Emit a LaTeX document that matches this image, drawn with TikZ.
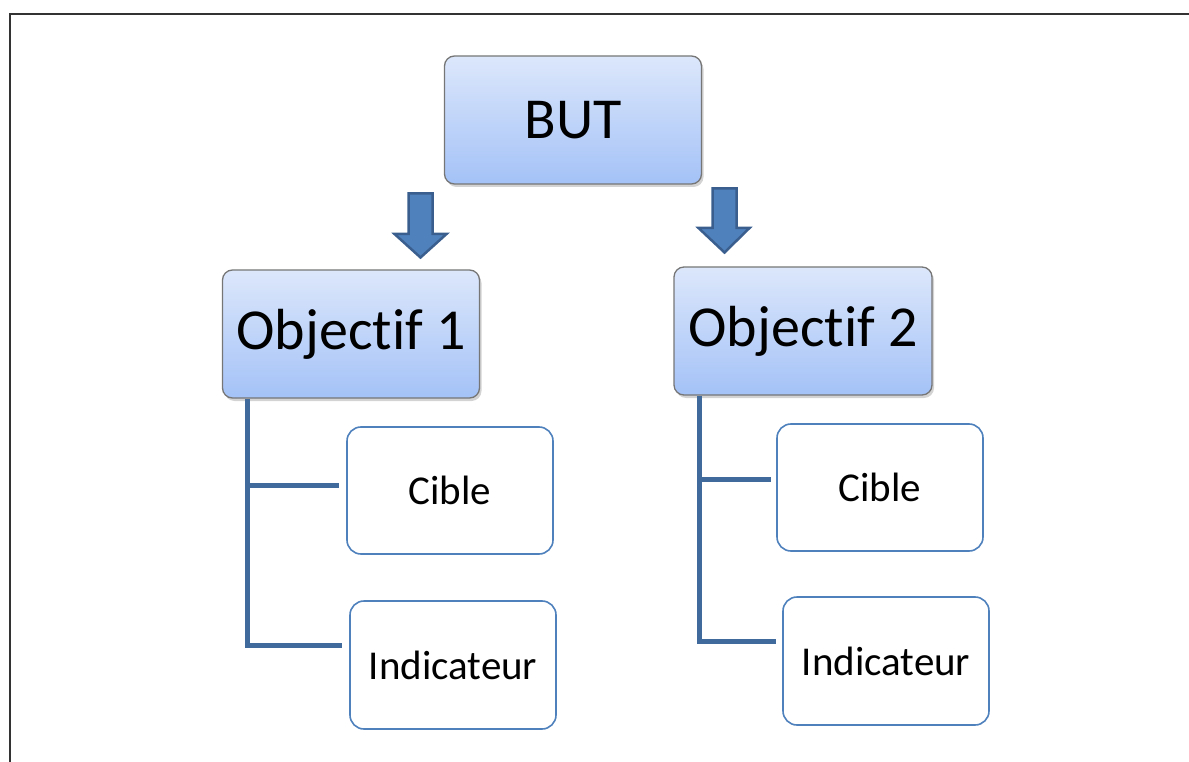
\documentclass[tikz,border=0pt]{standalone}
\usepackage{fontspec}
\setmainfont{Carlito}[Ligatures={NoCommon}]
\usepackage{tikz}
\usepackage{xcolor}
\usetikzlibrary{shadows}
\usetikzlibrary{calc}

\definecolor{boxtop}{HTML}{DCE7FB}
\definecolor{boxbottom}{HTML}{A4C2F7}
\definecolor{boxedge}{HTML}{767676}
\definecolor{leafedge}{HTML}{4F81BD}
\definecolor{linkblue}{HTML}{40699C}
\definecolor{arrowfill}{HTML}{4F81BD}
\definecolor{arrowedge}{HTML}{3A5F8F}

\tikzset{
  goalbox/.style={draw=boxedge, line width=1.3pt, rounded corners=10pt,
    top color=boxtop, bottom color=boxbottom, inner sep=0pt,
    minimum width=257pt, minimum height=128pt,
    drop shadow={shadow xshift=2pt, shadow yshift=-3pt, opacity=0.35},
    font=\fontsize{58}{61}\selectfont},
  leafbox/.style={draw=leafedge, line width=1.6pt, rounded corners=14pt,
    fill=white, inner sep=0pt, minimum width=206pt, minimum height=127pt,
    font=\fontsize{41}{44}\selectfont},
  link/.style={draw=linkblue, line width=5pt},
  blockarrow/.style={draw=arrowedge, fill=arrowfill, line width=2.5pt, line join=miter},
  frame/.style={draw=black!80, line width=1.8pt}
}

\begin{document}
\begin{tikzpicture}[x=1pt,y=-1pt]
\useasboundingbox (0,0) rectangle (1189,762);
\draw [frame] (10,762) -- (10,14) -- (1189,14);

\node [goalbox] (but) at (573,120) {BUT};
\node [goalbox] (obj1) at (351,334) {Objectif 1};
\node [goalbox, minimum width=258pt] (obj2) at (803,331) {Objectif 2};

\node [leafbox] (cib1) at (450,490.5) {Cible};
\node [leafbox, minimum height=128pt] (ind1) at (453,665) {Indicateur};
\node [leafbox] (cib2) at (880,487.5) {Cible};
\node [leafbox, minimum height=128pt] (ind2) at (886,661) {Indicateur};

\draw [blockarrow] (408.5,193.5) -- (432.5,193.5) -- (432.5,234) -- (446.5,234) -- (420.5,257.5) -- (394.5,234) -- (408.5,234) -- cycle;
\draw [blockarrow] (712.5,188.5) -- (736.5,188.5) -- (736.5,228) -- (749.5,228) -- (724.5,252.5) -- (698.5,228) -- (712.5,228) -- cycle;

\draw [link] ([xshift=26pt]obj1.south west) |- ([xshift=-7pt,yshift=20pt]ind1.west);
\draw [link] ([xshift=26pt]obj1.south west |- cib1.west) ++(0,-5.5) -- ([xshift=-7pt,yshift=5.5pt]cib1.west);
\draw [link] ([xshift=26.5pt]obj2.south west) |- ([xshift=-6pt,yshift=20pt]ind2.west);
\draw [link] ([xshift=26.5pt]obj2.south west |- cib2.west) ++(0,-8) -- ([xshift=-5pt,yshift=8pt]cib2.west);

\end{tikzpicture}
\end{document}
